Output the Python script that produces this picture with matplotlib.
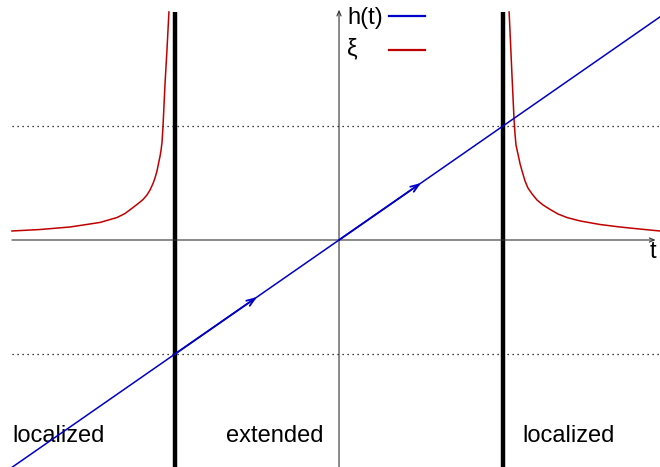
import matplotlib
matplotlib.use("Agg")
import matplotlib.pyplot as plt

plt.rcParams['font.family'] = ['Liberation Sans', 'DejaVu Sans']

# Sweep parameter t and the linear field h(t) = t
t_line = [-1.994, 1.957]
h_line = [-1.994, 1.957]

# Critical points of the transition
t_crit = [-1.0, 1.0]
h_crit = [-1.0, 1.0]

# Localization length xi, left branch (t < -1)
t_xi_left = [-1.994, -1.823, -1.640, -1.457, -1.354, -1.305, -1.256, -1.220,
             -1.195, -1.171, -1.152, -1.134, -1.122, -1.110, -1.101, -1.091,
             -1.085, -1.079, -1.073, -1.067, -1.061, -1.055, -1.049, -1.043,
             -1.037]
xi_left = [0.079, 0.092, 0.114, 0.154, 0.197, 0.232, 0.285, 0.325,
           0.355, 0.395, 0.439, 0.496, 0.544, 0.605, 0.667, 0.737,
           0.789, 0.860, 1.000, 1.184, 1.368, 1.518, 1.667, 1.833,
           2.000]

# Localization length xi, right branch (t > 1)
t_xi_right = [1.037, 1.043, 1.049, 1.055, 1.061, 1.067, 1.073, 1.079,
              1.091, 1.104, 1.116, 1.134, 1.152, 1.177, 1.207, 1.244,
              1.287, 1.335, 1.390, 1.470, 1.591, 1.713, 1.835, 1.957]
xi_right = [2.000, 1.816, 1.623, 1.430, 1.246, 1.061, 0.930, 0.833,
            0.754, 0.667, 0.605, 0.518, 0.456, 0.404, 0.351, 0.307,
            0.268, 0.228, 0.197, 0.167, 0.136, 0.114, 0.096, 0.079]

# Direction of the sweep along h(t)
arrow_tail = [-1.0, 0.0]
arrow_head = [-0.5, 0.5]

# Phase labels
region_labels = ['localized', 'extended', 'localized']
region_t = [-1.994, -0.689, 1.116]
region_y = -1.72

# Key entries
key_labels = ['h(t)', 'ξ']

BLUE = '#0000c8'
RED = '#c00000'
AXIS = '#333333'

fig = plt.figure(figsize=(6.6, 4.67), dpi=100)
ax = fig.add_axes([0, 0, 1, 1])
ax.set_xlim(-2.067, 1.957)
ax.set_ylim(-1.991, 2.105)
ax.axis('off')

# Coordinate axes with arrow heads
ax.annotate('', xy=(1.93, 0), xytext=(-1.994, 0),
            arrowprops=dict(arrowstyle='->,head_length=0.35,head_width=0.15',
                            color=AXIS, lw=0.8, shrinkA=0, shrinkB=0))
ax.annotate('', xy=(0, 2.02), xytext=(0, -2.0),
            arrowprops=dict(arrowstyle='->,head_length=0.35,head_width=0.15',
                            color=AXIS, lw=0.8, shrinkA=0, shrinkB=0))
ax.text(1.915, -0.105, 't', fontsize=17, ha='center', va='center')

# Dotted levels at the critical fields
for hc in h_crit:
    ax.plot([-1.994, 1.957], [hc, hc], color='black', lw=0.9,
            dashes=(1, 3), zorder=1)

# Thick boundaries at the critical points
ax.vlines(t_crit, -2.0, 2.0, color='black', lw=3.2, zorder=2)

# Localization length
ax.plot(t_xi_left, xi_left, color=RED, lw=1.1, zorder=3)
ax.plot(t_xi_right, xi_right, color=RED, lw=1.1, zorder=3)

# Field sweep
ax.plot(t_line, h_line, color=BLUE, lw=1.1, zorder=4)
for a, b in zip(arrow_tail, arrow_head):
    ax.annotate('', xy=(b, b), xytext=(a, a),
                arrowprops=dict(arrowstyle='->,head_length=0.6,head_width=0.22',
                                color=BLUE, lw=1.3, shrinkA=0, shrinkB=0),
                zorder=5)

for lab, tx in zip(region_labels, region_t):
    ax.text(tx, region_y, lab, fontsize=17, ha='left', va='center')

# Key: label on the left, line sample on the right
key_colors = [BLUE, RED]
key_rows = [1 - 18 / 467, 1 - 49 / 467]
key_line_rows = [1 - 16 / 467, 1 - 50 / 467]
for lab, col, yr, yl in zip(key_labels, key_colors, key_rows, key_line_rows):
    ax.text(347 / 660, yr, lab, transform=ax.transAxes, fontsize=17,
            ha='left', va='center')
    ax.plot([389 / 660, 425 / 660], [yl, yl], transform=ax.transAxes,
            color=col, lw=1.6, clip_on=False)

fig.savefig('out.png', dpi=100)
